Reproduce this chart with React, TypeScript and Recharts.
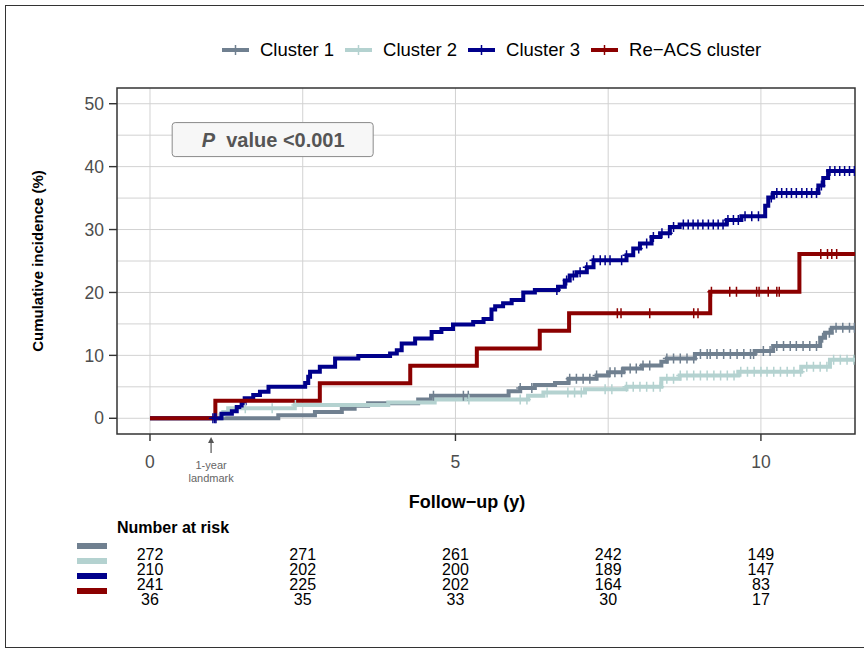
import {
  ComposedChart,
  ScatterChart,
  Line,
  Scatter,
  XAxis,
  YAxis,
  CartesianGrid,
  ReferenceArea,
  ReferenceDot,
} from "recharts";

type Pt = [number, number];

const X_MIN = -0.54;
const X_MAX = 11.54;
const Y_MIN = -2.5;
const Y_MAX = 52.5;

const X_TICKS = [0, 5, 10];
const X_GRID = [0, 2.5, 5, 7.5, 10];
const Y_TICKS = [0, 10, 20, 30, 40, 50];
const Y_GRID = [0, 5, 10, 15, 20, 25, 30, 35, 40, 45, 50];

const NAMES = ["Cluster 1", "Cluster 2", "Cluster 3", "Re\u2212ACS cluster"];
const COLORS = ["#708090", "#B4D2D0", "#00008B", "#8B0000"];

// step points [year, cumulative incidence %]
const C1_STEPS: Pt[] = [
  [0, 0], [2.1, 0.5], [2.7, 1.0], [3.14, 1.5], [3.35, 2.0], [3.57, 2.4],
  [4.39, 3.0], [4.6, 3.6], [5.87, 4.3], [6.06, 4.8], [6.3, 5.3], [6.63, 5.6],
  [6.85, 6.3], [7.31, 6.8], [7.5, 7.3], [7.75, 7.9], [8.05, 8.4], [8.37, 9.0],
  [8.46, 9.5], [8.92, 10.2], [9.9, 10.7], [10.2, 11.5], [10.97, 12.8],
  [11.05, 13.6], [11.16, 14.4],
];
const C1_CENSOR = [
  4.64, 5.13, 5.21, 6.06, 6.25, 6.87, 6.98, 7.09, 7.2, 7.31, 7.53, 7.61,
  7.72, 7.86, 7.96, 8.07, 8.18, 8.46, 8.57, 8.68, 8.79, 8.9, 9.01, 9.12,
  9.17, 9.28, 9.39, 9.5, 9.61, 9.72, 9.83, 9.88, 10.04, 10.15, 10.26, 10.37,
  10.48, 10.58, 10.69, 10.8, 10.91, 11.01, 11.12, 11.23, 11.34, 11.45, 11.53,
];

const C2_STEPS: Pt[] = [
  [0, 0], [1.15, 0.5], [1.2, 1.0], [1.28, 1.6], [2.37, 2.1], [3.9, 2.5],
  [4.66, 3.0], [6.19, 3.6], [6.44, 4.1], [7.12, 4.6], [7.8, 5.0], [8.37, 6.3],
  [8.67, 6.8], [9.63, 7.4], [10.66, 8.2], [11.13, 9.3],
];
const C2_CENSOR = [
  1.56, 2.0, 2.38, 5.22, 6.06, 6.17, 6.5, 6.84, 6.95, 7.06, 7.45, 7.56, 7.8,
  7.91, 8.02, 8.13, 8.24, 8.35, 8.46, 8.57, 8.68, 8.79, 8.9, 9.01, 9.12, 9.23,
  9.34, 9.45, 9.56, 9.67, 9.78, 9.89, 10.0, 10.1, 10.21, 10.32, 10.43, 10.54,
  10.65, 10.75, 10.86, 10.97, 11.08, 11.19, 11.3, 11.41, 11.52,
];

const C3_STEPS: Pt[] = [
  [0, 0], [1.17, 0.7], [1.34, 1.1], [1.42, 1.8], [1.5, 2.4], [1.55, 3.2],
  [1.69, 3.7], [1.8, 4.2], [1.94, 5.0], [2.54, 5.6], [2.59, 6.6], [2.62, 7.4],
  [2.78, 8.2], [3.03, 9.5], [3.41, 9.9], [3.93, 10.3], [4.04, 10.8],
  [4.12, 11.9], [4.34, 12.7], [4.61, 13.7], [4.77, 14.2], [4.96, 14.9],
  [5.29, 15.3], [5.46, 15.8], [5.59, 17.3], [5.65, 17.8], [5.78, 18.3],
  [5.92, 18.8], [6.11, 20.0], [6.3, 20.4], [6.68, 20.9], [6.79, 21.9],
  [6.87, 22.7], [6.98, 23.2], [7.15, 24.0], [7.26, 25.1], [7.8, 25.9],
  [7.91, 27.0], [8.02, 27.8], [8.21, 28.8], [8.35, 29.4], [8.51, 30.4],
  [8.67, 30.8], [9.44, 31.5], [9.68, 32.1], [10.07, 33.8], [10.12, 35.1],
  [10.2, 35.8], [10.94, 37.0], [11.02, 38.2], [11.1, 39.3],
];
const C3_CENSOR = [
  1.03, 1.06, 1.08, 6.66, 6.82, 6.93, 7.04, 7.15, 7.26, 7.37, 7.45, 7.53,
  7.72, 7.8, 8.0, 8.13, 8.24, 8.38, 8.49, 8.57, 8.73, 8.81, 8.89, 8.97, 9.05,
  9.14, 9.22, 9.3, 9.38, 9.46, 9.55, 9.63, 9.74, 9.85, 9.96, 10.17, 10.26,
  10.34, 10.42, 10.5, 10.58, 10.67, 10.75, 10.83, 10.91, 10.99, 11.13, 11.21,
  11.29, 11.37, 11.45, 11.53,
];

const RE_STEPS: Pt[] = [
  [0, 0], [1.07, 2.78], [2.78, 5.56], [4.26, 8.33], [5.35, 11.1],
  [6.38, 13.9], [6.86, 16.7], [9.17, 20.1], [10.63, 26.1],
];
const RE_CENSOR = [
  7.65, 7.71, 8.18, 8.9, 8.97, 9.19, 9.49, 9.6, 9.93, 9.97, 10.12, 10.26,
  10.3, 10.98, 11.09, 11.16, 11.24,
];

const RISK_TIMES = [0, 2.5, 5, 7.5, 10];
const RISK_C1 = [272, 271, 261, 242, 149];
const RISK_C2 = [210, 202, 200, 189, 147];
const RISK_C3 = [241, 225, 202, 164, 83];
const RISK_RE = [36, 35, 33, 30, 17];

const FONT = "'Liberation Sans', Arial, Helvetica, sans-serif";
const AXIS_GRAY = "#4d4d4d";

function buildCurve(steps: Pt[], censor: number[]) {
  const rows = steps.map(([t, v]) => ({ t, v, c: false }));
  for (const t of censor) {
    let v = 0;
    for (const [st, sv] of steps) if (st <= t) v = sv;
    rows.push({ t, v, c: true });
  }
  rows.push({ t: X_MAX, v: steps[steps.length - 1][1], c: false });
  rows.sort((a, b) => a.t - b.t);
  return rows;
}

const CURVES = [
  buildCurve(C1_STEPS, C1_CENSOR),
  buildCurve(C2_STEPS, C2_CENSOR),
  buildCurve(C3_STEPS, C3_CENSOR),
  buildCurve(RE_STEPS, RE_CENSOR),
];

const RISK_ROWS = [RISK_C1, RISK_C2, RISK_C3, RISK_RE];
const riskData = RISK_ROWS.flatMap((row, r) =>
  row.map((n, i) => ({ t: RISK_TIMES[i], row: r, n }))
);

const censorDot = (color: string) => (props: any) => {
  const { cx, cy, payload, index } = props;
  if (!payload || !payload.c || cx == null || cy == null) {
    return <g key={`e-${index}`} />;
  }
  return (
    <path
      key={`c-${index}`}
      d={`M${cx - 4},${cy}h8M${cx},${cy - 5}v10`}
      stroke={color}
      strokeWidth={1.5}
      fill="none"
    />
  );
};

const PValueBox = (props: any) => {
  const { cx, cy } = props;
  return (
    <g>
      <rect
        x={cx - 100}
        y={cy - 17}
        width={201}
        height={34}
        rx={3}
        fill="#f7f7f7"
        stroke="#8a8a8a"
        strokeWidth={1}
      />
      <text
        x={cx + 1}
        y={cy + 7}
        textAnchor="middle"
        fontFamily={FONT}
        fontSize={20}
        fontWeight="bold"
        fill="#555555"
      >
        <tspan fontStyle="italic">P</tspan>
        <tspan>{"\u00a0 value <0.001"}</tspan>
      </text>
    </g>
  );
};

const LandmarkArrow = (props: any) => {
  const { cx, cy } = props;
  return (
    <g fill="#666666" fontFamily={FONT} fontSize={11}>
      <line x1={cx} y1={cy + 6} x2={cx} y2={cy + 19} stroke="#555" strokeWidth={1.2} />
      <path d={`M${cx - 3},${cy + 9}L${cx},${cy + 3}L${cx + 3},${cy + 9}Z`} fill="#555" />
      <text x={cx} y={cy + 35} textAnchor="middle">1-year</text>
      <text x={cx} y={cy + 48} textAnchor="middle">landmark</text>
    </g>
  );
};

const RiskText = (props: any) => {
  const { cx, cy, payload } = props;
  return (
    <text
      x={cx}
      y={cy}
      dy="0.36em"
      textAnchor="middle"
      fontFamily={FONT}
      fontSize={16}
      fill="#000"
    >
      {payload.n}
    </text>
  );
};

function LegendRow() {
  return (
    <div
      style={{
        position: "absolute",
        left: 222,
        top: 38,
        display: "flex",
        alignItems: "center",
        fontFamily: FONT,
        fontSize: 18.5,
        color: "#000",
        whiteSpace: "nowrap",
      }}
    >
      {NAMES.map((name, i) => (
        <div key={name} style={{ display: "flex", alignItems: "center", marginRight: 11 }}>
          <svg width={27} height={24} style={{ marginRight: 11 }}>
            <line x1={0} y1={12} x2={27} y2={12} stroke={COLORS[i]} strokeWidth={4} />
            <line x1={13.5} y1={7} x2={13.5} y2={17} stroke={COLORS[i]} strokeWidth={1.5} />
          </svg>
          <span>{name}</span>
        </div>
      ))}
    </div>
  );
}

export default function App() {
  return (
    <div
      style={{
        position: "absolute",
        left: 0,
        top: 0,
        width: 864,
        height: 649,
        overflow: "hidden",
        background: "#fff",
        fontFamily: FONT,
      }}
    >
      <div
        style={{
          position: "absolute",
          left: 5,
          top: 5,
          width: 900,
          height: 641,
          border: "1.5px solid #333",
        }}
      />
      <LegendRow />

      <div style={{ position: "absolute", left: 0, top: 0 }}>
        <ComposedChart
          width={864}
          height={649}
          margin={{ top: 88, right: 9, bottom: 185, left: 57 }}
        >
          <CartesianGrid
            stroke="#d2d2d2"
            strokeWidth={1}
            horizontalValues={Y_GRID}
            verticalValues={X_GRID}
          />
          <XAxis
            dataKey="t"
            type="number"
            domain={[X_MIN, X_MAX]}
            allowDataOverflow
            ticks={X_TICKS}
            height={30}
            tickSize={7}
            tickMargin={15}
            axisLine={false}
            tickLine={{ stroke: "#333", strokeWidth: 1.4 }}
            tick={{ fill: AXIS_GRAY, fontSize: 17.5, fontFamily: FONT }}
          />
          <YAxis
            dataKey="v"
            type="number"
            domain={[Y_MIN, Y_MAX]}
            allowDataOverflow
            ticks={Y_TICKS}
            width={60}
            tickSize={8}
            tickMargin={5}
            axisLine={false}
            tickLine={{ stroke: "#333", strokeWidth: 1.4 }}
            tick={{ fill: AXIS_GRAY, fontSize: 17.5, fontFamily: FONT }}
          />
          {CURVES.map((data, i) => (
            <Line
              key={NAMES[i]}
              data={data}
              dataKey="v"
              type="stepAfter"
              stroke={COLORS[i]}
              strokeWidth={4}
              dot={censorDot(COLORS[i])}
              activeDot={false}
              isAnimationActive={false}
            />
          ))}
          <ReferenceArea
            x1={X_MIN}
            x2={X_MAX}
            y1={Y_MIN}
            y2={Y_MAX}
            fill="none"
            stroke="#333"
            strokeWidth={1.5}
            fillOpacity={0}
          />
          <ReferenceDot x={2.0} y={44.3} r={0} shape={PValueBox} />
          <ReferenceDot x={1} y={Y_MIN} r={0} ifOverflow="visible" shape={LandmarkArrow} />
        </ComposedChart>
      </div>

      <svg
        width={864}
        height={649}
        style={{ position: "absolute", left: 0, top: 0, pointerEvents: "none" }}
      >
        <text
          x={37}
          y={261}
          transform="rotate(-90 37 261)"
          textAnchor="middle"
          dominantBaseline="central"
          fontFamily={FONT}
          fontWeight="bold"
          fontSize={15}
          fill="#000"
        >
          Cumulative incidence (%)
        </text>
        <text
          x={467}
          y={508}
          textAnchor="middle"
          fontFamily={FONT}
          fontWeight="bold"
          fontSize={18}
          fill="#000"
        >
          Follow{"\u2212"}up (y)
        </text>
        <text x={117} y={533} fontFamily={FONT} fontWeight="bold" fontSize={16} fill="#000">
          Number at risk
        </text>
        {COLORS.map((c, i) => (
          <rect key={c} x={77} y={543 + i * 15} width={30} height={6} fill={c} />
        ))}
      </svg>

      <div style={{ position: "absolute", left: 0, top: 540 }}>
        <ScatterChart
          width={864}
          height={75}
          margin={{ top: 6.5, right: 9, bottom: 8.5, left: 117 }}
        >
          <XAxis dataKey="t" type="number" domain={[X_MIN, X_MAX]} hide />
          <YAxis dataKey="row" type="number" domain={[-0.5, 3.5]} reversed hide />
          <Scatter data={riskData} shape={RiskText} isAnimationActive={false} />
        </ScatterChart>
      </div>
    </div>
  );
}
